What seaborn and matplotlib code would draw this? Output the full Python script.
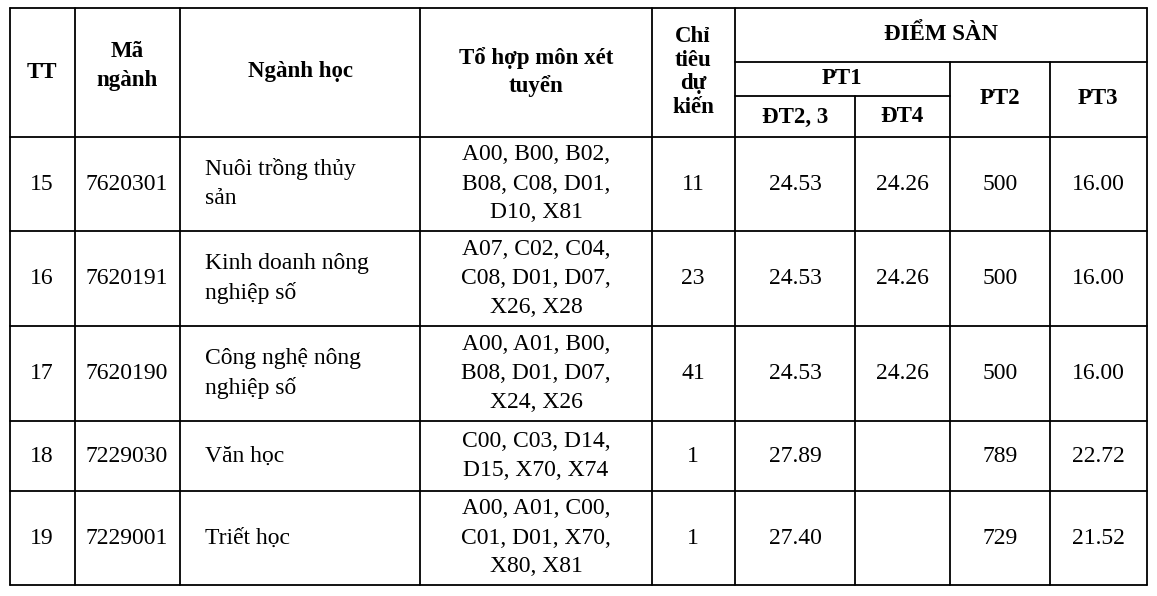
import matplotlib
matplotlib.use("Agg")
import matplotlib.pyplot as plt
import seaborn as sns

tt = ["15", "16", "17", "18", "19"]
ma_nganh = ["7620301", "7620191", "7620190", "7229030", "7229001"]
nganh_hoc = ["Nuôi trồng thủy\nsản", "Kinh doanh nông\nnghiệp số", "Công nghệ nông\nnghiệp số", "Văn học", "Triết học"]
to_hop = ["A00, B00, B02,\nB08, C08, D01,\nD10, X81",
          "A07, C02, C04,\nC08, D01, D07,\nX26, X28",
          "A00, A01, B00,\nB08, D01, D07,\nX24, X26",
          "C00, C03, D14,\nD15, X70, X74",
          "A00, A01, C00,\nC01, D01, X70,\nX80, X81"]
chi_tieu = ["11", "23", "41", "1", "1"]
dt23 = ["24.53", "24.53", "24.53", "27.89", "27.40"]
dt4 = ["24.26", "24.26", "24.26", "", ""]
pt2 = ["500", "500", "500", "789", "729"]
pt3 = ["16.00", "16.00", "16.00", "22.72", "21.52"]

sns.set_theme(style="white")
plt.rcParams['font.family'] = ['Liberation Serif', 'DejaVu Serif']

W, H = 1157, 596
fig = plt.figure(figsize=(W / 100, H / 100), dpi=100)
ax = fig.add_axes([0, 0, 1, 1])
ax.set_xlim(0, W)
ax.set_ylim(H, 0)
ax.axis("off")

xs = [10, 75, 180, 420, 652, 735, 855, 950, 1050, 1147]
top, h1, h2, hb = 8, 62, 96, 137
rows = [137, 231, 326, 421, 491, 585]
lw = 1.3
k = "black"

for x in xs:
    if x in (855, 950, 1050):
        continue
    ax.plot([x, x], [top, rows[-1]], color=k, lw=lw)
ax.plot([855, 855], [h2, rows[-1]], color=k, lw=lw)
ax.plot([950, 950], [h1, rows[-1]], color=k, lw=lw)
ax.plot([1050, 1050], [h1, rows[-1]], color=k, lw=lw)
ax.plot([xs[0], xs[-1]], [top, top], color=k, lw=lw)
ax.plot([735, 1147], [h1, h1], color=k, lw=lw)
ax.plot([735, 950], [h2, h2], color=k, lw=lw)
for y in rows:
    ax.plot([xs[0], xs[-1]], [y, y], color=k, lw=lw)

hfs, fs = 16.5, 17
def t(x, y, s, bold=False, ha="center", ls=1.15):
    ax.text(x, y, s, ha=ha, va="center", fontsize=hfs if bold else fs,
            fontweight="bold" if bold else "normal", linespacing=ls, color=k)

t(42, 72, "TT", True)
t(127, 66, "Mã\nngành", True, ls=1.45)
t(300, 72, "Ngành học", True)
t(536, 72, "Tổ hợp môn xét\ntuyển", True, ls=1.4)
t(693, 72, "Chỉ\ntiêu\ndự\nkiến", True, ls=1.15)
t(941, 35, "ĐIỂM SÀN", True)
t(842, 79, "PT1", True)
t(795, 117, "ĐT2, 3", True)
t(902, 117, "ĐT4", True)
t(1000, 99, "PT2", True)
t(1098, 99, "PT3", True)

for i in range(len(tt)):
    yc = (rows[i] + rows[i + 1]) / 2
    t(42, yc, tt[i])
    t(127, yc, ma_nganh[i])
    t(205, yc, nganh_hoc[i], ha="left", ls=1.5)
    t(536, yc, to_hop[i], ls=1.5)
    t(693, yc, chi_tieu[i])
    t(795, yc, dt23[i])
    t(902, yc, dt4[i])
    t(1000, yc, pt2[i])
    t(1098, yc, pt3[i])

fig.savefig("out.png", dpi=100, facecolor="white")
